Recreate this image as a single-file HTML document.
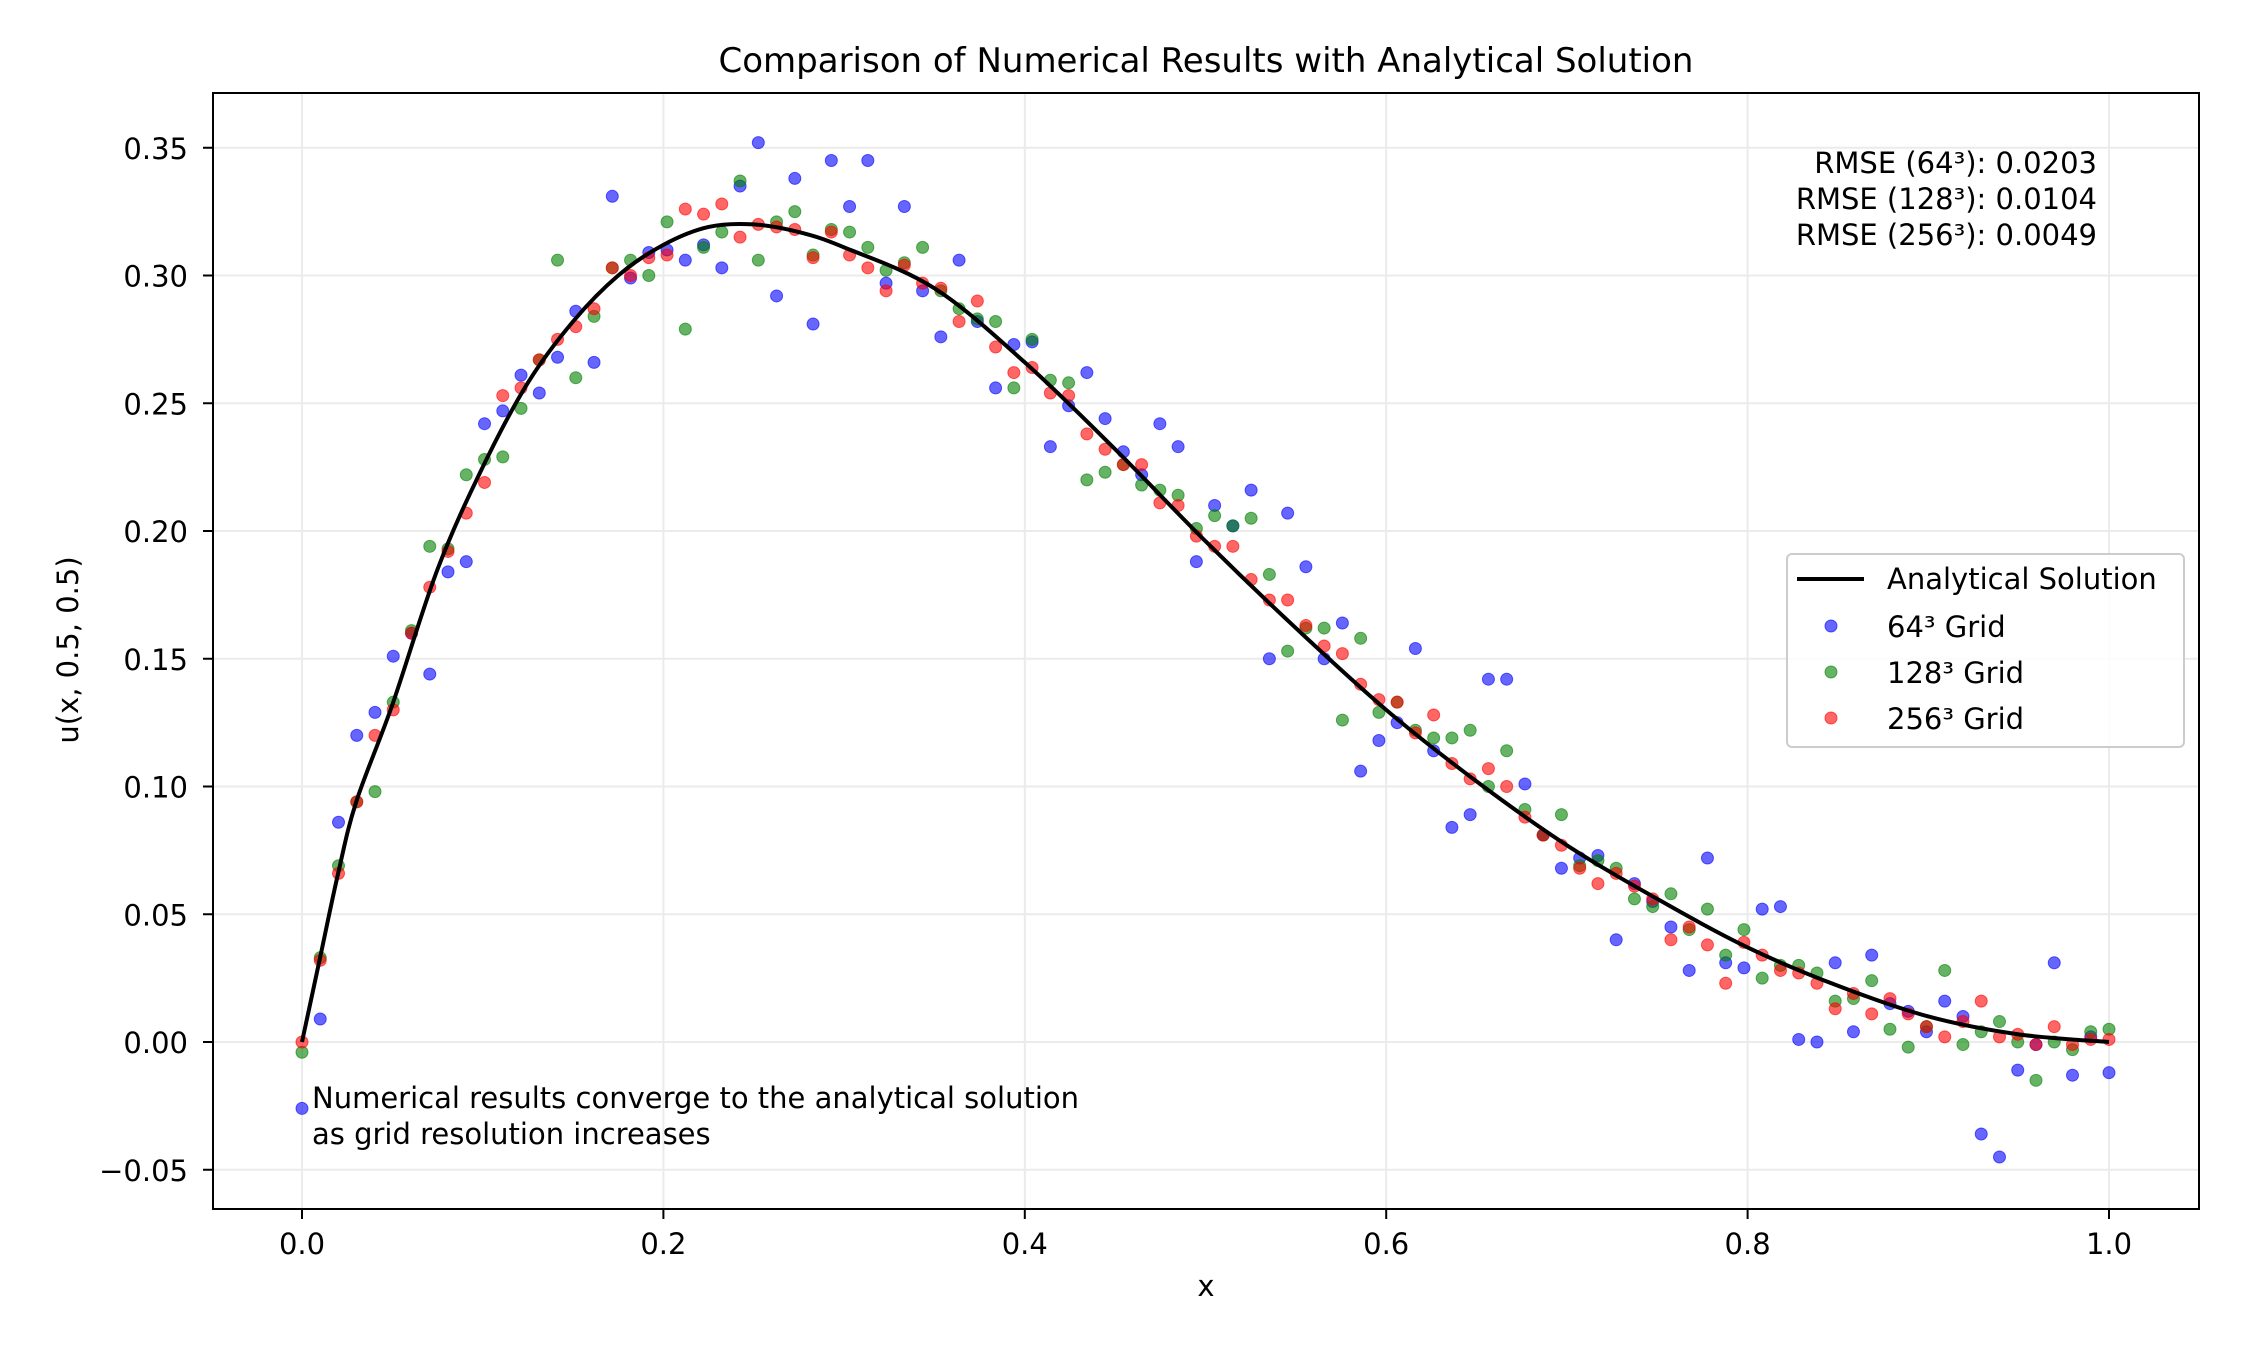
<!DOCTYPE html>
<html><head><meta charset="utf-8">
<style>
html,body{margin:0;padding:0;background:#fff;}
svg{display:block;font-family:"DejaVu Sans","Liberation Sans",sans-serif;}
</style></head>
<body>
<svg id="chart" width="2265" height="1347" viewBox="0 0 2265 1347" xmlns="http://www.w3.org/2000/svg">
<rect width="2265" height="1347" fill="#fff"/>
<g id="grid"></g>
<g id="marks"></g>
<rect x="213" y="93" width="1986" height="1116" fill="none" stroke="#000" stroke-width="2"/>
<g id="axes"></g>
<text x="1206" y="72" font-size="34" text-anchor="middle">Comparison of Numerical Results with Analytical Solution</text>
<text x="1206" y="1296" font-size="29" text-anchor="middle">x</text>
<text x="0" y="0" font-size="29" text-anchor="middle" transform="translate(78,650) rotate(-90)">u(x, 0.5, 0.5)</text>
<g font-size="29" text-anchor="end">
<text x="2097" y="173">RMSE (64³): 0.0203</text>
<text x="2097" y="209">RMSE (128³): 0.0104</text>
<text x="2097" y="245">RMSE (256³): 0.0049</text>
</g>
<g font-size="29">
<text x="312" y="1108">Numerical results converge to the analytical solution</text>
<text x="312" y="1144">as grid resolution increases</text>
</g>
<g>
<rect x="1787" y="554" width="397" height="193" rx="5" fill="#fff" fill-opacity="0.85" stroke="#ccc" stroke-width="2"/>
<line x1="1797" y1="579" x2="1864" y2="579" stroke="#000" stroke-width="4"/>
<text x="1887" y="589" font-size="29">Analytical Solution</text>
<circle cx="1831" cy="626" r="6" fill="#0000ff" fill-opacity="0.6" stroke="#0000ff" stroke-opacity="0.6" stroke-width="1"/>
<text x="1887" y="637" font-size="29">64³ Grid</text>
<circle cx="1831" cy="672" r="6" fill="#008000" fill-opacity="0.6" stroke="#008000" stroke-opacity="0.6" stroke-width="1"/>
<text x="1887" y="683" font-size="29">128³ Grid</text>
<circle cx="1831" cy="718" r="6" fill="#ff0000" fill-opacity="0.6" stroke="#ff0000" stroke-opacity="0.6" stroke-width="1"/>
<text x="1887" y="729" font-size="29">256³ Grid</text>
</g>
</svg>
<script>
const xTicks=[0,0.2,0.4,0.6,0.8,1.0];
const xTickLabels=["0.0","0.2","0.4","0.6","0.8","1.0"];
const yTicks=[-0.05,0,0.05,0.1,0.15,0.2,0.25,0.3,0.35];
const yTickLabels=["\u22120.05","0.00","0.05","0.10","0.15","0.20","0.25","0.30","0.35"];
const curveX=[0,0.01,0.02,0.03,0.05,0.075,0.1,0.125,0.15,0.175,0.2,0.225,0.25,0.275,0.3,0.35,0.4,0.45,0.5,0.55,0.6,0.65,0.7,0.75,0.8,0.85,0.9,0.95,1.0];
const curveY=[0,0.033,0.066,0.094,0.132,0.185,0.225,0.258,0.282,0.300,0.312,0.319,0.320,0.317,0.311,0.295,0.266,0.232,0.196,0.162,0.130,0.102,0.077,0.056,0.037,0.022,0.010,0.003,0.0];
const grid64=[-0.026,0.009,0.086,0.120,0.129,0.151,0.160,0.144,0.184,0.188,0.242,0.247,0.261,0.254,0.268,0.286,0.266,0.331,0.299,0.309,0.310,0.306,0.312,0.303,0.335,0.352,
0.292,0.338,0.281,0.345,0.327,0.345,0.297,0.327,0.294,0.276,0.306,0.282,0.256,0.273,0.274,0.233,0.249,0.262,0.244,0.231,0.222,0.242,0.233,0.188,0.210,
0.202,0.216,0.150,0.207,0.186,0.150,0.164,0.106,0.118,0.125,0.154,0.114,0.084,0.089,0.142,0.142,0.101,
0.081,0.068,0.072,0.073,0.040,0.062,0.055,0.045,0.028,0.072,0.031,0.029,0.052,0.053,0.001,0.000,0.031,0.004,0.034,0.015,0.012,0.004,0.016,0.010,-0.036,-0.045,-0.011,-0.001,0.031,-0.013,0.002,-0.012];
const grid128=[-0.004,0.033,0.069,0.094,0.098,0.133,0.161,0.194,0.193,0.222,0.228,0.229,0.248,0.267,0.306,0.260,0.284,0.303,0.306,0.300,0.321,0.279,0.311,0.317,0.337,0.306,
0.321,0.325,0.308,0.318,0.317,0.311,0.302,0.305,0.311,0.294,0.287,0.283,0.282,0.256,0.275,0.259,0.258,0.220,0.223,0.226,0.218,0.216,0.214,0.201,0.206,
0.202,0.205,0.183,0.153,0.162,0.162,0.126,0.158,0.129,0.133,0.122,0.119,0.119,0.122,0.100,0.114,0.091,
0.081,0.089,0.069,0.071,0.068,0.056,0.053,0.058,0.044,0.052,0.034,0.044,0.025,0.030,0.030,0.027,0.016,0.017,0.024,0.005,-0.002,0.006,0.028,-0.001,0.004,0.008,0.000,-0.015,0.000,-0.003,0.004,0.005];
const grid256=[0.000,0.032,0.066,0.094,0.120,0.130,0.160,0.178,0.192,0.207,0.219,0.253,0.256,0.267,0.275,0.280,0.287,0.303,0.300,0.307,0.308,0.326,0.324,0.328,0.315,0.320,
0.319,0.318,0.307,0.317,0.308,0.303,0.294,0.304,0.297,0.295,0.282,0.290,0.272,0.262,0.264,0.254,0.253,0.238,0.232,0.226,0.226,0.211,0.210,0.198,0.194,
0.194,0.181,0.173,0.173,0.163,0.155,0.152,0.140,0.134,0.133,0.121,0.128,0.109,0.103,0.107,0.100,0.088,
0.081,0.077,0.068,0.062,0.066,0.061,0.056,0.040,0.045,0.038,0.023,0.039,0.034,0.028,0.027,0.023,0.013,0.019,0.011,0.017,0.011,0.006,0.002,0.008,0.016,0.002,0.003,-0.001,0.006,-0.001,0.001,0.001];
const X0=302,X1=2109,Y0=1042,YS=2555;
function sx(v){return X0+v*(X1-X0);}
function sy(v){return Y0-v*YS;}
const NS="http://www.w3.org/2000/svg";
function mk(tag,attrs,parent){const e=document.createElementNS(NS,tag);for(const k in attrs)e.setAttribute(k,attrs[k]);parent.appendChild(e);return e;}
const grid=document.getElementById('grid'),axes=document.getElementById('axes'),marks=document.getElementById('marks');
xTicks.forEach((t,i)=>{
 const g=mk('line',{x1:sx(t),x2:sx(t),y1:93,y2:1209,stroke:'#ebebeb','stroke-width':2},grid);
 
 
 const tk=mk('line',{x1:sx(t),x2:sx(t),y1:1209,y2:1219,stroke:'#000','stroke-width':2},axes);
 
 
 const tx=mk('text',{x:sx(t),y:1254,'font-size':29,'text-anchor':'middle'},axes);
 tx.textContent=xTickLabels[i];
 
 
});
yTicks.forEach((t,i)=>{
 const g=mk('line',{x1:213,x2:2199,y1:sy(t),y2:sy(t),stroke:'#ebebeb','stroke-width':2},grid);
 
 
 const tk=mk('line',{x1:203,x2:213,y1:sy(t),y2:sy(t),stroke:'#000','stroke-width':2},axes);
 
 
 const tx=mk('text',{x:188,y:sy(t)+11,'font-size':29,'text-anchor':'end'},axes);
 tx.textContent=yTickLabels[i];
 
 
});
function drawSeries(vals,color,name){
 const n=vals.length;
 vals.forEach((v,i)=>{
  const c=mk('circle',{cx:sx(i/(n-1)),cy:sy(v),r:6,fill:color,'fill-opacity':0.6,stroke:color,'stroke-opacity':0.6,'stroke-width':1},marks);
  
  
 });
}
drawSeries(grid64,'#0000ff','point-64');
drawSeries(grid128,'#008000','point-128');
drawSeries(grid256,'#ff0000','point-256');
let d='M'+sx(curveX[0])+','+sy(curveY[0]);
for(let i=0;i<curveX.length-1;i++){
 const p0=[sx(curveX[Math.max(i-1,0)]),sy(curveY[Math.max(i-1,0)])];
 const p1=[sx(curveX[i]),sy(curveY[i])];
 const p2=[sx(curveX[i+1]),sy(curveY[i+1])];
 const p3=[sx(curveX[Math.min(i+2,curveX.length-1)]),sy(curveY[Math.min(i+2,curveX.length-1)])];
 const c1=[p1[0]+(p2[0]-p0[0])/6,p1[1]+(p2[1]-p0[1])/6];
 const c2=[p2[0]-(p3[0]-p1[0])/6,p2[1]-(p3[1]-p1[1])/6];
 d+=' C'+c1[0]+','+c1[1]+' '+c2[0]+','+c2[1]+' '+p2[0]+','+p2[1];
}
const path=mk('path',{d:d,fill:'none',stroke:'#000','stroke-width':4},marks);


</script>
</body></html>
